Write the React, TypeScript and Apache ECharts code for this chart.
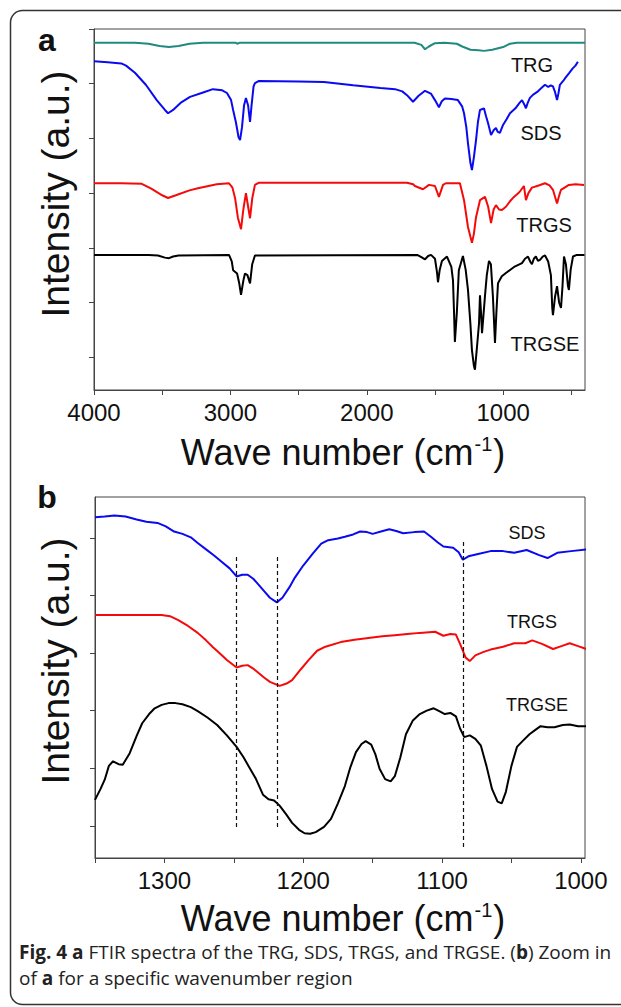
import React, { useEffect, useRef } from "react";
import * as echarts from "echarts";

const FONT = "Liberation Sans, Arial, sans-serif";
const CAP_FONT = "Open Sans, Noto Sans, sans-serif";

// ---------- Panel a ----------
const xTicksA = [4000, 3500, 3000, 2500, 2000, 1500, 1000, 500];
const xLabelsA = [4000, 3000, 2000, 1000];
const yTicksA = [0.6, 1.6, 2.6, 3.6, 4.6, 5.6, 6.6];

const trgA: [number, number][] = [
  [4000, 6.35], [3700, 6.35], [3600, 6.33], [3520, 6.29], [3450, 6.27], [3380, 6.29], [3300, 6.33],
  [3200, 6.35], [2960, 6.35], [2950, 6.33], [2930, 6.35], [1650, 6.35], [1600, 6.31], [1573, 6.23],
  [1545, 6.28], [1500, 6.34], [1430, 6.35], [1340, 6.33], [1300, 6.28], [1240, 6.22], [1180, 6.21],
  [1140, 6.2], [1080, 6.22], [1000, 6.27], [950, 6.33], [900, 6.35], [700, 6.35], [400, 6.35],
];

const sdsA: [number, number][] = [
  [4000, 6.01], [3900, 5.99], [3800, 5.97], [3765, 5.93], [3700, 5.8], [3620, 5.58], [3540, 5.3],
  [3480, 5.12], [3457, 5.06], [3420, 5.12], [3360, 5.26], [3296, 5.36], [3200, 5.44], [3128, 5.5],
  [3060, 5.48], [3025, 5.43], [2995, 5.3], [2980, 5.12], [2960, 4.9], [2940, 4.62], [2929, 4.57],
  [2915, 4.8], [2900, 5.2], [2886, 5.34], [2870, 5.2], [2856, 4.9], [2845, 5.2], [2830, 5.55],
  [2820, 5.61], [2790, 5.65], [2500, 5.64], [2314, 5.63], [2100, 5.57], [1900, 5.52], [1793, 5.5],
  [1740, 5.46], [1705, 5.39], [1661, 5.27], [1620, 5.38], [1573, 5.47], [1530, 5.42], [1500, 5.3],
  [1471, 5.17], [1450, 5.28], [1427, 5.33], [1380, 5.32], [1332, 5.3], [1300, 5.18], [1287, 5.06],
  [1270, 4.8], [1258, 4.51], [1240, 4.15], [1229, 4.02], [1215, 4.25], [1199, 4.57], [1185, 4.9],
  [1170, 5.12], [1141, 5.15], [1125, 5.0], [1111, 4.88], [1089, 4.66], [1070, 4.75], [1053, 4.79],
  [1040, 4.72], [1024, 4.7], [1000, 4.85], [975, 4.95], [950, 5.06], [910, 5.15], [880, 5.25],
  [862, 5.3], [845, 5.22], [833, 5.15], [820, 5.25], [804, 5.34], [780, 5.4], [750, 5.45],
  [720, 5.52], [693, 5.58], [670, 5.54], [650, 5.57], [635, 5.55], [620, 5.45], [605, 5.3],
  [595, 5.42], [584, 5.58], [560, 5.65], [540, 5.72], [518, 5.79], [490, 5.88], [470, 5.93], [452, 6.0],
];

const trgsA: [number, number][] = [
  [4000, 3.78], [3800, 3.78], [3650, 3.77], [3580, 3.68], [3500, 3.56], [3457, 3.51], [3400, 3.56],
  [3300, 3.65], [3238, 3.69], [3100, 3.76], [3010, 3.78], [2985, 3.7], [2965, 3.5], [2945, 3.15],
  [2922, 2.94], [2905, 3.3], [2886, 3.6], [2870, 3.35], [2856, 3.14], [2840, 3.5], [2820, 3.75],
  [2790, 3.79], [1705, 3.79], [1660, 3.76], [1647, 3.73], [1588, 3.67], [1544, 3.75], [1500, 3.73],
  [1471, 3.53], [1441, 3.75], [1420, 3.78], [1317, 3.78], [1287, 3.47], [1258, 2.98], [1229, 2.69],
  [1215, 2.85], [1199, 3.16], [1170, 3.47], [1133, 3.53], [1110, 3.35], [1089, 3.05], [1070, 3.3],
  [1053, 3.38], [1030, 3.3], [1009, 3.29], [980, 3.35], [950, 3.45], [921, 3.53], [880, 3.62],
  [848, 3.73], [833, 3.47], [815, 3.6], [789, 3.7], [740, 3.74], [693, 3.78], [660, 3.74],
  [635, 3.66], [605, 3.41], [590, 3.55], [576, 3.66], [518, 3.75], [470, 3.76], [407, 3.75],
];

const trgseA: [number, number][] = [
  [4000, 2.47], [3600, 2.47], [3531, 2.46], [3480, 2.42], [3450, 2.41], [3420, 2.44], [3380, 2.46],
  [3010, 2.47], [2990, 2.35], [2980, 2.19], [2951, 2.13], [2935, 1.95], [2922, 1.74], [2905, 2.0],
  [2893, 2.13], [2875, 2.1], [2856, 1.95], [2840, 2.3], [2820, 2.46], [1630, 2.47], [1600, 2.43],
  [1573, 2.39], [1550, 2.45], [1529, 2.47], [1500, 2.4], [1485, 2.15], [1478, 1.97], [1465, 2.2],
  [1449, 2.36], [1412, 2.44], [1380, 2.25], [1368, 2.01], [1360, 1.4], [1354, 0.88], [1340, 1.4],
  [1325, 2.19], [1295, 2.45], [1275, 2.2], [1258, 1.83], [1240, 1.2], [1229, 0.73], [1215, 0.45],
  [1207, 0.37], [1195, 0.7], [1177, 1.22], [1170, 1.73], [1162, 1.4], [1155, 1.04], [1145, 1.35],
  [1133, 1.73], [1120, 2.1], [1104, 2.36], [1090, 2.3], [1075, 1.7], [1060, 0.86], [1050, 1.4],
  [1038, 1.95], [1010, 2.08], [980, 2.14], [920, 2.25], [862, 2.32], [840, 2.4], [818, 2.44],
  [800, 2.34], [789, 2.3], [775, 2.4], [760, 2.44], [745, 2.36], [730, 2.38], [710, 2.44],
  [693, 2.46], [670, 2.35], [650, 2.1], [640, 1.5], [635, 1.37], [620, 1.7], [605, 1.9],
  [590, 1.6], [576, 1.5], [565, 1.9], [554, 2.44], [540, 2.3], [525, 1.9], [518, 1.83],
  [505, 2.2], [488, 2.44], [460, 2.47], [404, 2.47],
];

// ---------- Panel b ----------
const xTicksB = [1350, 1300, 1250, 1200, 1150, 1100, 1050, 1000];
const xLabelsB = [1300, 1200, 1100, 1000];
const yTicksB = [0.56, 1.56, 2.56, 3.56, 4.56, 5.56];

const sdsB: [number, number][] = [
  [1350, 5.92], [1343, 5.93], [1336, 5.95], [1328, 5.93], [1320, 5.88], [1313, 5.84], [1305, 5.82],
  [1299, 5.76], [1293, 5.67], [1287, 5.63], [1281, 5.57], [1276, 5.47], [1270, 5.36], [1264, 5.25],
  [1259, 5.15], [1253, 5.03], [1248, 4.89], [1244, 4.92], [1240, 4.92], [1236, 4.85], [1233, 4.77],
  [1228, 4.63], [1224, 4.52], [1219, 4.44], [1215, 4.52], [1210, 4.7], [1206, 4.87], [1200, 5.08],
  [1193, 5.29], [1187, 5.46], [1182, 5.52], [1175, 5.55], [1170, 5.58], [1164, 5.62], [1159, 5.67],
  [1154, 5.66], [1150, 5.63], [1144, 5.67], [1138, 5.71], [1133, 5.68], [1128, 5.64], [1120, 5.66],
  [1113, 5.67], [1108, 5.58], [1103, 5.48], [1099, 5.41], [1092, 5.39], [1088, 5.31], [1085, 5.18],
  [1081, 5.24], [1074, 5.28], [1065, 5.33], [1056, 5.33], [1048, 5.3], [1039, 5.35], [1030, 5.26],
  [1024, 5.21], [1017, 5.3], [1007, 5.33], [996, 5.36],
];

const trgsB: [number, number][] = [
  [1350, 4.22], [1302, 4.22], [1296, 4.2], [1290, 4.13], [1283, 4.03], [1276, 3.91], [1270, 3.78],
  [1265, 3.66], [1260, 3.55], [1255, 3.44], [1248, 3.31], [1244, 3.34], [1240, 3.35], [1236, 3.29],
  [1233, 3.23], [1228, 3.13], [1224, 3.06], [1217, 2.99], [1212, 3.03], [1208, 3.09], [1202, 3.27],
  [1196, 3.44], [1190, 3.6], [1184, 3.67], [1173, 3.75], [1163, 3.79], [1153, 3.82], [1143, 3.85],
  [1134, 3.87], [1125, 3.89], [1116, 3.91], [1105, 3.93], [1099, 3.86], [1094, 3.89], [1090, 3.88],
  [1087, 3.72], [1083, 3.48], [1080, 3.42], [1076, 3.52], [1070, 3.58], [1065, 3.62], [1056, 3.67],
  [1048, 3.73], [1040, 3.73], [1035, 3.78], [1028, 3.72], [1020, 3.63], [1014, 3.68], [1008, 3.73],
  [1002, 3.68], [996, 3.63],
];

const trgseB: [number, number][] = [
  [1350, 1.01], [1346, 1.2], [1343, 1.36], [1340, 1.6], [1337, 1.68], [1333, 1.63], [1330, 1.62],
  [1325, 1.82], [1320, 2.12], [1316, 2.34], [1311, 2.5], [1307, 2.6], [1302, 2.66], [1297, 2.69],
  [1292, 2.69], [1287, 2.67], [1281, 2.62], [1276, 2.55], [1269, 2.44], [1262, 2.31], [1255, 2.13],
  [1248, 1.93], [1243, 1.75], [1239, 1.58], [1234, 1.37], [1229, 1.1], [1225, 1.02], [1221, 1.0],
  [1217, 0.91], [1212, 0.75], [1208, 0.61], [1203, 0.49], [1199, 0.43], [1195, 0.42], [1191, 0.45],
  [1185, 0.54], [1180, 0.68], [1175, 0.95], [1170, 1.25], [1166, 1.58], [1162, 1.84], [1158, 1.98],
  [1155, 2.03], [1151, 1.97], [1148, 1.8], [1145, 1.55], [1141, 1.37], [1137, 1.33], [1134, 1.42],
  [1130, 1.75], [1126, 2.15], [1121, 2.39], [1116, 2.5], [1111, 2.56], [1106, 2.6], [1102, 2.55],
  [1098, 2.5], [1094, 2.52], [1090, 2.46], [1087, 2.25], [1084, 2.1], [1080, 2.13], [1076, 2.07],
  [1072, 1.95], [1068, 1.6], [1064, 1.2], [1060, 0.98], [1057, 0.95], [1054, 1.15], [1050, 1.6],
  [1046, 1.93], [1042, 2.03], [1037, 2.15], [1033, 2.22], [1029, 2.29], [1024, 2.27], [1019, 2.27],
  [1013, 2.31], [1008, 2.32], [1002, 2.29], [996, 2.29],
];

// dashed guide lines: [wavenumber, top value, bottom value]
const guidesB: [number, number, number][] = [
  [1248, 5.23, 0.54],
  [1219, 5.23, 0.54],
  [1085, 5.49, 0.19],
];

const TEAL = "#1f8a80";
const BLUE = "#0a0af0";
const RED = "#f50a0a";
const BLACK = "#000000";
const AXIS = "#444";

function axisX(gridIndex: number, min: number, max: number, ticks: number[], labels: number[]) {
  return {
    type: "value",
    gridIndex,
    inverse: true,
    min,
    max,
    axisLine: { show: true, lineStyle: { color: AXIS, width: 1 } },
    axisTick: { show: true, customValues: ticks, length: 5, lineStyle: { color: AXIS } },
    axisLabel: {
      show: true,
      customValues: labels,
      formatter: (v: number) => String(v),
      margin: 10,
      color: "#111",
      fontFamily: FONT,
      fontSize: 24,
    },
    splitLine: { show: false },
  };
}

function axisY(gridIndex: number, max: number, ticks: number[]) {
  return {
    type: "value",
    gridIndex,
    min: 0,
    max,
    axisLine: { show: true, lineStyle: { color: AXIS, width: 1 } },
    axisTick: { show: true, customValues: ticks, length: 5, lineStyle: { color: AXIS } },
    axisLabel: { show: false },
    splitLine: { show: false },
  };
}

function line(name: string, data: [number, number][], color: string, idx: number, extra: any = {}) {
  return {
    name,
    type: "line",
    xAxisIndex: idx,
    yAxisIndex: idx,
    data,
    symbol: "none",
    showSymbol: false,
    lineStyle: { color, width: 2 },
    z: 3,
    ...extra,
  };
}

function txt(x: number, y: number, text: string, size: number, extra: any = {}) {
  return {
    type: "text",
    x,
    y,
    style: {
      text,
      fontFamily: FONT,
      fontSize: size,
      fill: "#111",
      align: "center",
      verticalAlign: "middle",
      ...extra,
    },
  };
}

function xTitle(y: number) {
  return {
    type: "text",
    x: 343,
    y,
    style: {
      text: "{m|Wave number (cm}{s|-1}{m|)}",
      align: "center",
      verticalAlign: "middle",
      fill: "#111",
      rich: {
        m: { fontFamily: FONT, fontSize: 36, fill: "#111", lineHeight: 36 },
        s: { fontFamily: FONT, fontSize: 20, fill: "#111", verticalAlign: "top", padding: [0, 1, 18, 1], lineHeight: 20 },
      },
    },
  };
}

function yTitle(x: number, y: number) {
  return {
    type: "text",
    x,
    y,
    rotation: Math.PI / 2,
    style: {
      text: "Intensity (a.u.)",
      fontFamily: FONT,
      fontSize: 39,
      fill: "#111",
      align: "center",
      verticalAlign: "middle",
    },
  };
}

export default function App() {
  const ref = useRef<HTMLDivElement>(null);
  useEffect(() => {
    document.body.style.margin = "0";
    const chart = echarts.init(ref.current!, undefined, { renderer: "svg" });
    chart.setOption({
      animation: false,
      backgroundColor: "#fff",
      grid: [
        { left: 94, top: 29, width: 491, height: 361, show: true, borderColor: AXIS, borderWidth: 1, backgroundColor: "transparent" },
        { left: 95, top: 497, width: 490, height: 361, show: true, borderColor: AXIS, borderWidth: 1, backgroundColor: "transparent" },
      ],
      xAxis: [axisX(0, 400, 4000, xTicksA, xLabelsA), axisX(1, 997, 1350, xTicksB, xLabelsB)],
      yAxis: [axisY(0, 6.6, yTicksA), axisY(1, 6.27, yTicksB)],
      series: [
        line("TRG", trgA, TEAL, 0),
        line("SDS", sdsA, BLUE, 0),
        line("TRGS", trgsA, RED, 0),
        line("TRGSE", trgseA, BLACK, 0),
        line("SDS b", sdsB, BLUE, 1, {
          markLine: {
            silent: true,
            symbol: ["none", "none"],
            label: { show: false },
            lineStyle: { type: [4, 3], color: "#111", width: 1.2 },
            data: guidesB.map((g) => [{ coord: [g[0], g[1]] }, { coord: [g[0], g[2]] }]),
          },
        }),
        line("TRGS b", trgsB, RED, 1),
        line("TRGSE b", trgseB, BLACK, 1),
      ],
      graphic: [
        {
          type: "rect",
          shape: { x: 10.5, y: 10.5, width: 640, height: 994, r: 12 },
          style: { fill: "none", stroke: "#333", lineWidth: 1.5 },
          z: 10,
        },
        txt(47, 40, "a", 32, { fontWeight: "bold" }),
        txt(47, 497, "b", 32, { fontWeight: "bold" }),
        yTitle(55, 194),
        yTitle(55, 661),
        xTitle(452),
        xTitle(918),
        txt(532, 65, "TRG", 20),
        txt(541, 133, "SDS", 20),
        txt(544, 225, "TRGS", 20),
        txt(545, 344, "TRGSE", 20),
        txt(527, 533, "SDS", 18),
        txt(532, 622, "TRGS", 18),
        txt(537, 705, "TRGSE", 18),
        {
          type: "text",
          x: 19,
          y: 952,
          style: {
            text: "{b|Fig. 4 a} FTIR spectra of the TRG, SDS, TRGS, and TRGSE. ({b|b}) Zoom in",
            fontFamily: CAP_FONT,
            fontSize: 19,
            fill: "#222",
            align: "left",
            verticalAlign: "middle",
            rich: { b: { fontFamily: CAP_FONT, fontSize: 19, fontWeight: "bold", fill: "#222" } },
          },
        },
        {
          type: "text",
          x: 19,
          y: 978,
          style: {
            text: "of {b|a} for a specific wavenumber region",
            fontFamily: CAP_FONT,
            fontSize: 19,
            fill: "#222",
            align: "left",
            verticalAlign: "middle",
            rich: { b: { fontFamily: CAP_FONT, fontSize: 19, fontWeight: "bold", fill: "#222" } },
          },
        },
      ],
    });
    return () => chart.dispose();
  }, []);
  return <div ref={ref} style={{ position: "absolute", left: 0, top: 0, width: 621, height: 1007 }} />;
}
